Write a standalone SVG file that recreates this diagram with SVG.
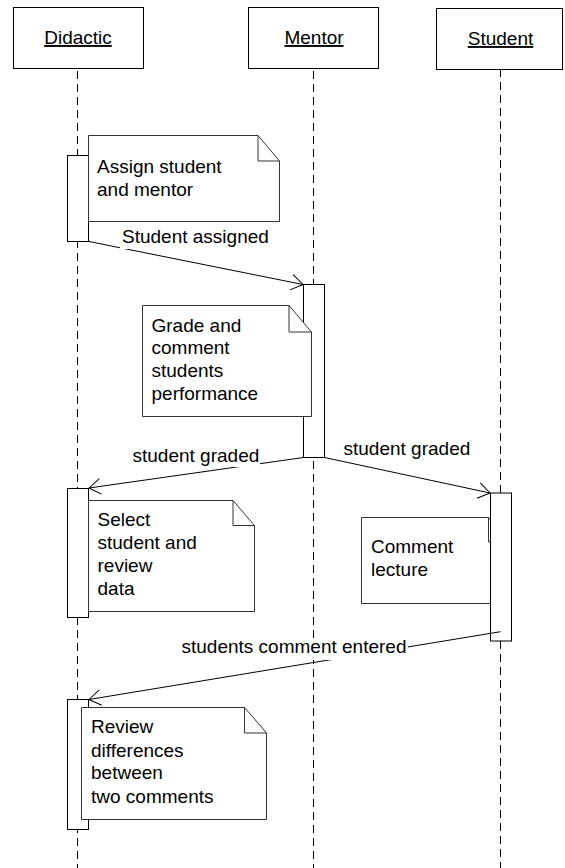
<svg xmlns="http://www.w3.org/2000/svg" width="565" height="868" viewBox="0 0 565 868">
  <style>
    text { font-family: "Liberation Sans", Arial, sans-serif; font-size: 19px; fill: #000; }
    .head { text-anchor: middle; text-decoration: underline; }
    .box { fill: #fff; stroke: #000; stroke-width: 1; }
    .life { stroke: #000; stroke-width: 1; stroke-dasharray: 8 5; fill: none; }
    .act { fill: #fff; stroke: #000; stroke-width: 1; }
    .note { fill: #fff; stroke: #333; stroke-width: 1; }
    .fold { fill: none; stroke: #333; stroke-width: 1; }
    .msg { stroke: #000; stroke-width: 1; fill: none; marker-end: url(#open); }
    .lblbg { fill: #fff; stroke: none; }
  </style>
  <defs>
    <marker id="open" markerUnits="userSpaceOnUse" markerWidth="16" markerHeight="20" refX="0" refY="0" viewBox="-13 -10 14 20" orient="auto" overflow="visible">
      <path d="M-11.6,-7.8 L0,0 L-11.6,7.8" fill="none" stroke="#000" stroke-width="1"/>
    </marker>
  </defs>

  <!-- lifelines -->
  <g id="lifelines">
    <line class="life" x1="77.5" y1="71" x2="77.5" y2="868"/>
    <line class="life" x1="313.5" y1="71" x2="313.5" y2="868"/>
    <line class="life" x1="500.5" y1="69" x2="500.5" y2="868"/>
  </g>

  <!-- object headers -->
  <g id="didactic">
    <rect class="box" x="13.5" y="7.5" width="130" height="61"/>
    <text class="head" x="78" y="44">Didactic</text>
  </g>
  <g id="mentor">
    <rect class="box" x="248.5" y="7.5" width="130" height="61"/>
    <text class="head" x="314" y="44">Mentor</text>
  </g>
  <g id="student">
    <rect class="box" x="436.5" y="8.5" width="126" height="61"/>
    <text class="head" x="500.5" y="45">Student</text>
  </g>

  <!-- activation bars -->
  <g id="activations">
    <rect class="act" x="67.5" y="155.5" width="21" height="86"/>
    <rect class="act" x="303.5" y="284.5" width="21" height="173"/>
    <rect class="act" x="67.5" y="488.5" width="21" height="129"/>
    <rect class="act" x="67.5" y="699.5" width="21" height="130"/>
  </g>

  <!-- notes -->
  <g id="note-assign">
    <path class="note" d="M88.5,135.5 H258 L279.5,161 V221.5 H88.5 Z"/>
    <path class="fold" d="M258,135.5 V161 H279.5"/>
    <text x="97" y="173">Assign student</text>
    <text x="97" y="196">and mentor</text>
  </g>
  <g id="note-grade">
    <path class="note" d="M142.5,305.5 H289 L311.5,332 V416.5 H142.5 Z"/>
    <path class="fold" d="M289,305.5 V332 H311.5"/>
    <text x="151.5" y="331.5">Grade and</text>
    <text x="151.5" y="354">comment</text>
    <text x="151.5" y="376.5">students</text>
    <text x="151.5" y="400">performance</text>
  </g>
  <g id="note-select">
    <path class="note" d="M88.5,500.5 H233 L254.5,525.5 V611.5 H88.5 Z"/>
    <path class="fold" d="M233,500.5 V525.5 H254.5"/>
    <text x="97.5" y="526">Select</text>
    <text x="97.5" y="549">student and</text>
    <text x="97.5" y="572">review</text>
    <text x="97.5" y="595">data</text>
  </g>
  <g id="note-comment">
    <path class="note" d="M361.5,517.5 H488.5 L510.5,542 V603.5 H361.5 Z"/>
    <path class="fold" d="M488.5,517.5 V542 H510.5"/>
    <text x="371" y="553">Comment</text>
    <text x="371" y="576">lecture</text>
  </g>
  <g id="note-review">
    <path class="note" d="M81.5,707.5 H244.5 L266.5,733 V819.5 H81.5 Z"/>
    <path class="fold" d="M244.5,707.5 V733 H266.5"/>
    <text x="91" y="733">Review</text>
    <text x="91" y="756.5">differences</text>
    <text x="91" y="779">between</text>
    <text x="91" y="802.5">two comments</text>
  </g>

  <!-- student activation sits over its note -->
  <g id="student-activation">
    <rect class="act" x="490.5" y="493" width="21" height="148"/>
  </g>

  <!-- messages -->
  <g id="connectors">
    <line class="msg" x1="89" y1="241.5" x2="303" y2="284.5"/>
    <line class="msg" x1="303.5" y1="457.5" x2="89" y2="488"/>
    <line class="msg" x1="324.5" y1="457.5" x2="490" y2="493"/>
    <line class="msg" x1="500.5" y1="631.7" x2="89" y2="699.5"/>

    <rect class="lblbg" x="120" y="228" width="151" height="21"/>
    <text x="122" y="243">Student assigned</text>

    <rect class="lblbg" x="131" y="446" width="129" height="21"/>
    <text x="132.5" y="461.5">student graded</text>

    <text x="343.5" y="455">student graded</text>

    <rect class="lblbg" x="180" y="638" width="228" height="22"/>
    <text x="181.5" y="653.3">students comment entered</text>
  </g>
</svg>
